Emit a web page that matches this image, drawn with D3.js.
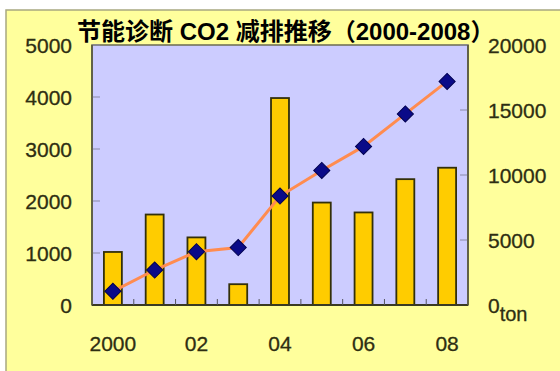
<!DOCTYPE html>
<html><head><meta charset="utf-8">
<script src="https://cdn.jsdelivr.net/npm/d3@7"></script>
<style>html,body{margin:0;padding:0;background:#fff;}svg{display:block;}</style>
</head><body>
<script>
const categories = ["2000","2001","2002","2003","2004","2005","2006","2007","2008"];
const xTickLabels = {"2000":"2000","2002":"02","2004":"04","2006":"06","2008":"08"};
const barValues = [1020, 1740, 1300, 400, 3980, 1970, 1780, 2420, 2640];
const lineValues = [1050, 2690, 4100, 4420, 8380, 10350, 12200, 14700, 17200];
const leftTicks = [0, 1000, 2000, 3000, 4000, 5000];
const rightTicks = [0, 5000, 10000, 15000, 20000];
const titleText = "节能诊断 CO2 减排推移（2000-2008）";
const unitText = "ton";

const W = 560, H = 371;
const plot = {l: 92, r: 468, t: 45, b: 305};

const svg = d3.select("body").append("svg").attr("width", W).attr("height", H);

svg.append("rect").attr("x", 6).attr("y", 10).attr("width", W).attr("height", H)
  .attr("fill", "#ffff9c").attr("stroke", "#a8a880").attr("stroke-width", 1.5);

const x = d3.scaleBand().domain(categories).range([plot.l, plot.r]).padding(0);
const yL = d3.scaleLinear().domain([0, 5000]).range([plot.b, plot.t]);
const yR = d3.scaleLinear().domain([0, 20000]).range([plot.b, plot.t]);

svg.append("rect").attr("x", plot.l).attr("y", plot.t)
  .attr("width", plot.r - plot.l).attr("height", plot.b - plot.t)
  .attr("fill", "#ccccff").attr("stroke", "#6b6b50").attr("stroke-width", 1.5);

// inward ticks left
svg.append("g").selectAll("line").data(leftTicks).join("line")
  .attr("x1", plot.l).attr("x2", plot.l + 8)
  .attr("y1", d => yL(d)).attr("y2", d => yL(d))
  .attr("stroke", "#8a8aa8").attr("stroke-width", 1);
// inward ticks right
svg.append("g").selectAll("line").data(rightTicks).join("line")
  .attr("x1", plot.r - 8).attr("x2", plot.r)
  .attr("y1", d => yR(d)).attr("y2", d => yR(d))
  .attr("stroke", "#8a8aa8").attr("stroke-width", 1);

// bars
const bw = x.bandwidth() * 0.43;
svg.append("g").selectAll("rect").data(barValues).join("rect")
  .attr("x", (d, i) => x(categories[i]) + x.bandwidth() / 2 - bw / 2)
  .attr("y", d => yL(d))
  .attr("width", bw)
  .attr("height", d => yL(0) - yL(d))
  .attr("fill", "#ffcc00").attr("stroke", "#33300a").attr("stroke-width", 1.8);

// bottom axis line + minor ticks at band boundaries
svg.append("line").attr("x1", plot.l).attr("x2", plot.r)
  .attr("y1", plot.b).attr("y2", plot.b).attr("stroke", "#3a3a22").attr("stroke-width", 2);
svg.append("g").selectAll("line").data(categories.slice(1)).join("line")
  .attr("x1", d => x(d)).attr("x2", d => x(d))
  .attr("y1", plot.b).attr("y2", plot.b - 6)
  .attr("stroke", "#555560").attr("stroke-width", 1);
svg.append("line").attr("x1", plot.l).attr("x2", plot.l)
  .attr("y1", plot.t).attr("y2", plot.b).attr("stroke", "#55553a").attr("stroke-width", 1.5);
svg.append("line").attr("x1", plot.r).attr("x2", plot.r)
  .attr("y1", plot.t).attr("y2", plot.b).attr("stroke", "#55553a").attr("stroke-width", 1.5);

// line
const line = d3.line()
  .x((d, i) => x(categories[i]) + x.bandwidth() / 2)
  .y(d => yR(d));
svg.append("path").datum(lineValues).attr("d", line)
  .attr("fill", "none").attr("stroke", "#ff8c50").attr("stroke-width", 3);

// diamonds
const sym = d3.symbol().type(d3.symbolSquare).size(130);
svg.append("g").selectAll("path").data(lineValues).join("path")
  .attr("d", sym)
  .attr("transform", (d, i) => `translate(${x(categories[i]) + x.bandwidth() / 2},${yR(d)}) rotate(45)`)
  .attr("fill", "#0a0a88").attr("stroke", "#000050").attr("stroke-width", 1);

const labelFont = "'Liberation Sans', Arial, sans-serif";
const labelColor = "#2e2e12";

// left labels
svg.append("g").selectAll("text").data(leftTicks).join("text")
  .attr("x", 72).attr("y", d => yL(d)).attr("dy", "0.36em")
  .attr("text-anchor", "end").attr("font-family", labelFont).attr("font-size", 21)
  .attr("fill", labelColor).attr("stroke", labelColor).attr("stroke-width", 0.3)
  .text(d => d);

// right labels
svg.append("g").selectAll("text").data(rightTicks).join("text")
  .attr("x", 488).attr("y", d => yR(d)).attr("dy", "0.36em")
  .attr("text-anchor", "start").attr("font-family", labelFont).attr("font-size", 21)
  .attr("fill", labelColor).attr("stroke", labelColor).attr("stroke-width", 0.3)
  .each(function(d) {
    const t = d3.select(this);
    t.append("tspan").text(d);
    if (d === 0) {
      t.append("tspan").attr("font-size", 20).attr("dy", "0.4em").attr("dx", 0).text(unitText);
    }
  });

// x labels
svg.append("g").selectAll("text").data(categories.filter(c => xTickLabels[c])).join("text")
  .attr("x", d => x(d) + x.bandwidth() / 2).attr("y", 351)
  .attr("text-anchor", "middle").attr("font-family", labelFont).attr("font-size", 21)
  .attr("fill", labelColor).attr("stroke", labelColor).attr("stroke-width", 0.3)
  .text(d => xTickLabels[d]);

// title
svg.append("text").attr("x", 77).attr("y", 40)
  .attr("font-family", "'Liberation Sans', 'Noto Sans CJK SC', sans-serif")
  .attr("font-weight", "bold").attr("font-size", 24).attr("fill", "#000")
  .text(titleText);
</script>
</body></html>
